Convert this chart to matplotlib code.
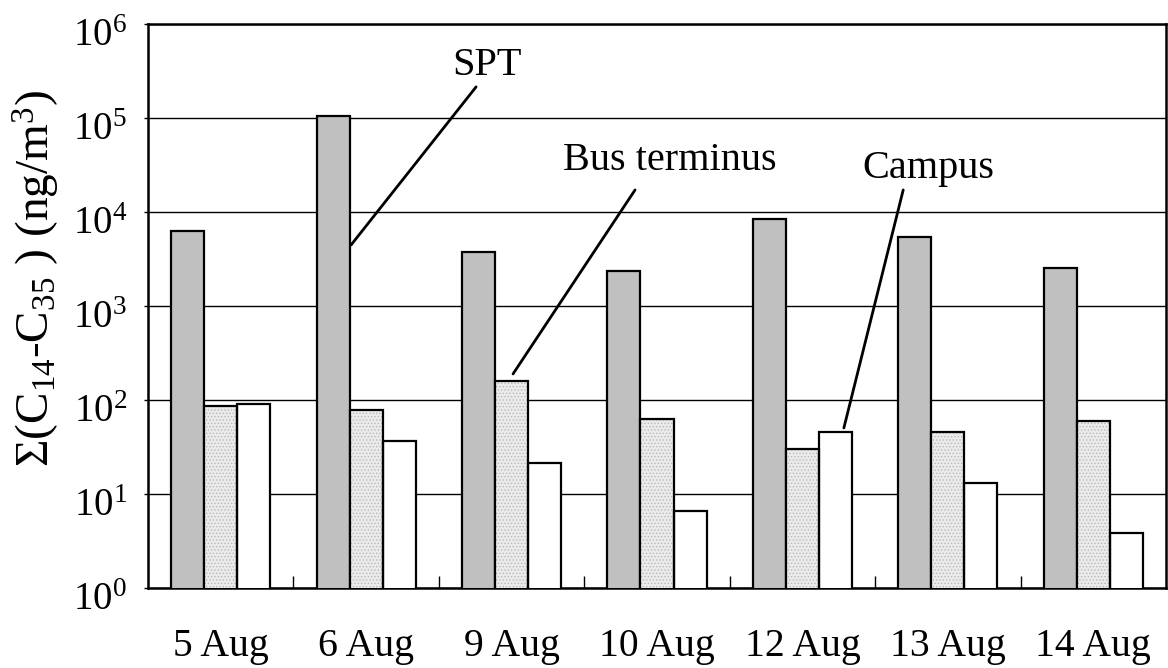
import numpy as np
import matplotlib
matplotlib.use('Agg')
import matplotlib.pyplot as plt
import matplotlib.transforms as mtransforms
from matplotlib.ticker import LogFormatterMathtext, FixedLocator, NullFormatter

# --- Datos ---
dates = ['5 Aug', '6 Aug', '9 Aug', '10 Aug', '12 Aug', '13 Aug', '14 Aug']
spt = [6300, 106000, 3700, 2350, 8300, 5350, 2500]
bus_terminus = [86, 78, 158, 62, 30, 45, 59]
campus = [90, 36, 21, 6.5, 45, 13, 3.8]
decades = [1e0, 1e1, 1e2, 1e3, 1e4, 1e5, 1e6]

# --- Estilo ---
plt.rcParams['font.family'] = ['Liberation Serif', 'DejaVu Serif']
plt.rcParams['mathtext.fontset'] = 'custom'
plt.rcParams['mathtext.rm'] = 'Liberation Serif'
plt.rcParams['mathtext.it'] = 'Liberation Serif:italic'
plt.rcParams['mathtext.default'] = 'regular'
plt.rcParams['hatch.linewidth'] = 0.6

fig = plt.figure(figsize=(11.68, 6.68), dpi=100)
ax = fig.add_axes([148 / 1168, 80.5 / 668, 1018 / 1168, 563.5 / 668])

x = np.arange(len(dates))
w = 0.227

ax.bar(x - w, spt, w, color='#c0c0c0', edgecolor='black', linewidth=1.6, zorder=3)
# barras punteadas: relleno con puntos y luego el borde negro
ax.bar(x, bus_terminus, w, color='#ebebeb', edgecolor='#b8b8b8', hatch='.....',
       linewidth=0, zorder=3)
ax.bar(x, bus_terminus, w, fill=False, edgecolor='black', linewidth=1.6, zorder=4)
ax.bar(x + w, campus, w, color='white', edgecolor='black', linewidth=1.6, zorder=3)

ax.set_yscale('log')
ax.set_ylim(1, 1e6)
ax.set_xlim(-0.5, len(dates) - 0.5)

ax.yaxis.set_major_locator(FixedLocator(decades))
ax.yaxis.set_major_formatter(LogFormatterMathtext())
ax.yaxis.set_minor_locator(FixedLocator([]))
ax.grid(axis='y', which='major', color='black', linewidth=1.0, zorder=0)

ax.set_xticks(x)
ax.set_xticklabels(dates)
ax.set_xticks(x[:-1] + 0.5, minor=True)
ax.xaxis.set_minor_formatter(NullFormatter())
ax.tick_params(axis='x', which='major', length=0, pad=29, labelsize=28.5)
ax.tick_params(axis='x', which='minor', direction='in', length=9, width=1.0)
ax.tick_params(axis='y', which='major', direction='out', length=3, width=1.0, pad=12, labelsize=28)

# bajar un poco las etiquetas del eje y
offset = mtransforms.ScaledTranslation(0, -8 / 100, fig.dpi_scale_trans)
for lbl in ax.get_yticklabels():
    lbl.set_transform(lbl.get_transform() + offset)

for s in ax.spines.values():
    s.set_linewidth(1.8)

ax.set_ylabel('Σ(C$_{14}$-C$_{35}$ ) (ng/m$^3$)', fontsize=34)
ax.yaxis.set_label_coords(-0.0845, 0.549)

# --- Etiquetas con líneas ---
line_kw = dict(arrowprops=dict(arrowstyle='-', color='black', lw=2.0, shrinkA=0, shrinkB=0))
ax.annotate('', xy=(1 - w / 2 + 0.01, 4440), xytext=(1.756, 214000), **line_kw)
ax.text(1.831, 283000, 'SPT', fontsize=29, ha='center', va='baseline')
ax.annotate('', xy=(2.010, 188), xytext=(2.849, 17100), **line_kw)
ax.text(3.090, 27900, 'Bus terminus', fontsize=29, ha='center', va='baseline')
ax.annotate('', xy=(4.285, 50), xytext=(4.693, 17100), **line_kw)
ax.text(4.864, 22950, 'Campus', fontsize=29, ha='center', va='baseline')

fig.savefig('out.png', dpi=100)
